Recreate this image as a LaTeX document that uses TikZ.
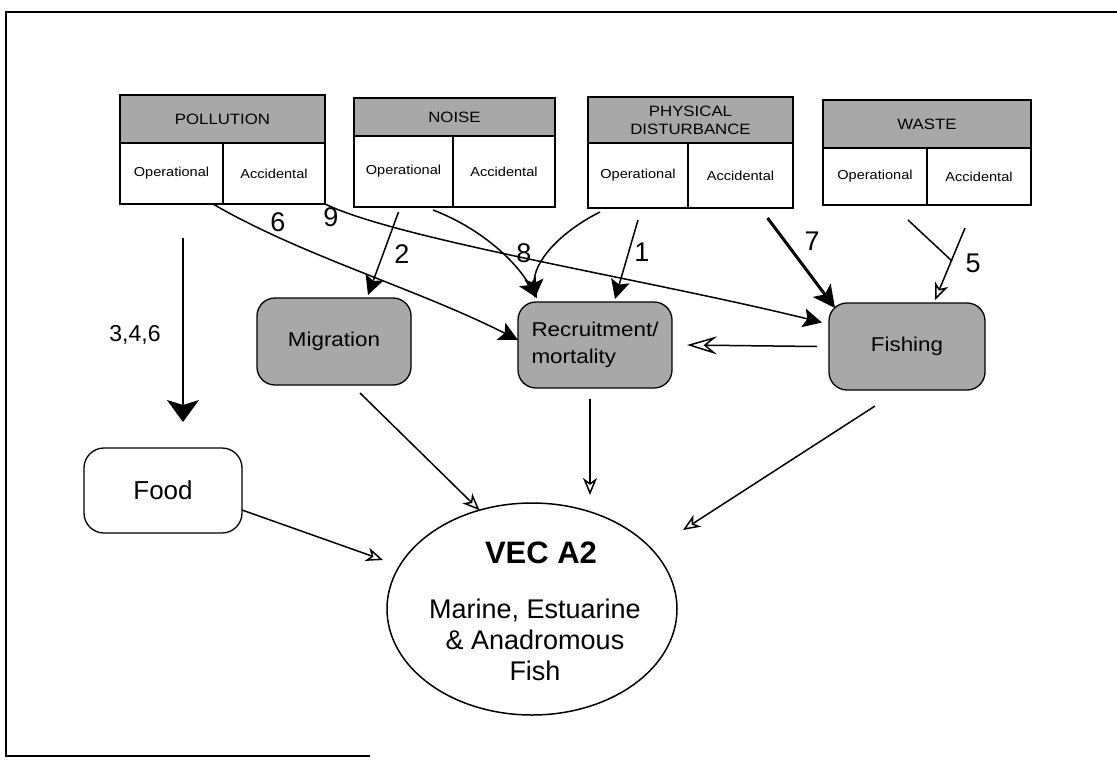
\documentclass[tikz,border=0pt]{standalone}
\usepackage{fontspec}
\setmainfont{Liberation Sans}
\newfontfamily\wsans[FakeStretch=1.12]{Liberation Sans}
\usetikzlibrary{arrows.meta,shapes.geometric}

\definecolor{hatch}{gray}{0.66}

\begin{document}
\begin{tikzpicture}[x=1pt,y=-1pt,
  every node/.style={inner sep=0pt, outer sep=0pt},
  hdr/.style={draw, line width=1.2pt, fill=hatch, align=center,
    font=\wsans\fontsize{15}{17}\selectfont},
  cell/.style={draw, line width=1.2pt, fill=white,
    font=\wsans\fontsize{13}{15}\selectfont},
  effect/.style={draw, line width=1.3pt, fill=hatch, rounded corners=18pt,
    align=left, font=\wsans\fontsize{20}{27}\selectfont},
  link/.style={line width=1.5pt},
  solid head/.style={-{Stealth[length=19pt,width=19pt,inset=4pt]}},
  open head/.style={-{Stealth[open,length=17pt,width=14pt,inset=5pt]}},
  hand/.style={font=\fontsize{27}{27}\selectfont}
]
\useasboundingbox (0,0) rectangle (1117,761);

% page frame (open on the right)
\draw[line width=2.2pt] (1117,12) -- (6,12) -- (6,756) -- (370,756);

% ---- sources -------------------------------------------------------
\node[hdr, minimum width=205pt, minimum height=48pt] (polH) at (222.5,119) {POLLUTION};
\node[cell, minimum width=103pt, minimum height=61pt] (polO) at (171.5,173.5) {Operational};
\node[cell, minimum width=102pt, minimum height=61pt] (polA) at (274,173.5) {Accidental};

\node[hdr, minimum width=201pt, minimum height=38pt] (noiH) at (454.5,117) {NOISE};
\node[cell, minimum width=99pt, minimum height=71pt] (noiO) at (403.5,171.5) {Operational};
\node[cell, minimum width=102pt, minimum height=71pt] (noiA) at (504,171.5) {Accidental};

\node[hdr, minimum width=205pt, minimum height=46pt, font=\wsans\fontsize{15}{18}\selectfont] (phyH) at (690.5,120) {PHYSICAL\\DISTURBANCE};
\node[cell, minimum width=100pt, minimum height=65pt] (phyO) at (638,175.5) {Operational};
\node[cell, minimum width=105pt, minimum height=65pt] (phyA) at (740.5,175.5) {Accidental};

\node[hdr, minimum width=208pt, minimum height=48pt] (wasH) at (927,124) {WASTE};
\node[cell, minimum width=104pt, minimum height=57pt] (wasO) at (875,176.5) {Operational};
\node[cell, minimum width=104pt, minimum height=57pt] (wasA) at (979,176.5) {Accidental};

% ---- pathways ------------------------------------------------------
\node[effect, minimum width=154pt, minimum height=87pt] (mig) at (334,341.5) {Migration};
\node[effect, minimum width=154pt, minimum height=86pt] (rec) at (595,345) {Recruitment/\\mortality};
\node[effect, minimum width=156pt, minimum height=87pt] (fish) at (907,346.5) {Fishing};
\node[draw, line width=1.3pt, fill=white, rounded corners=20pt,
      minimum width=158pt, minimum height=85pt,
      font=\fontsize{26}{28}\selectfont] (food) at (163,490.5) {Food};

% ---- receptor ------------------------------------------------------
\node[draw, ellipse, line width=1.5pt, minimum width=290pt, minimum height=212pt] (vec) at (532,609) {};
\node[font=\bfseries\fontsize{31}{32}\selectfont] (vecT) at (541,553) {VEC A2};
\node[align=center, font=\fontsize{27}{31}\selectfont] (vecB) at (535,640)
  {Marine, Estuarine\\\& Anadromous\\Fish};

% ---- hand-drawn impact links -----------------------------------------
\draw[link, -{Stealth[length=22pt,width=32pt,inset=5pt]}]
  ([xshift=11.5pt,yshift=-34pt]polO.south) -- ([xshift=20pt,yshift=26pt]food.north);
\node[font=\fontsize{23}{23}\selectfont] (l346) at (135,335) {3,4,6};

\draw[link, solid head] ([xshift=41.5pt]polO.south)
  .. controls (300,255) and (420,290) .. ([yshift=5pt]rec.west);
\node[hand] (l6) at (278,222) {6};

\draw[link, solid head] (polA.south east)
  .. controls (400,240) and (650,280) .. ([xshift=-7pt,yshift=24pt]fish.west);
\node[hand] (l9) at (331,217) {9};

\draw[link, solid head] ([xshift=-5pt,yshift=-5pt]noiO.south) -- ([xshift=34pt,yshift=3pt]mig.north);
\node[hand] (l2) at (402,254) {2};

\draw[link, solid head] ([xshift=29.5pt,yshift=-3pt]noiO.south)
  .. controls (480,228) and (515,260) .. ([xshift=-58pt,yshift=4pt]rec.north);
\node[hand] (l8) at (524,253) {8};

\draw[link, solid head] ([xshift=-38pt,yshift=-4pt]phyO.south)
  .. controls (560,232) and (533,262) .. ([xshift=-60pt,yshift=4pt]rec.north);

\draw[link, solid head] ([yshift=-12pt]phyO.south) -- ([xshift=20pt,yshift=3pt]rec.north);
\node[hand] (l1) at (642,252) {1};

\draw[line width=3pt, -{Stealth[length=22pt,width=22pt,inset=5pt]}]
  ([xshift=27pt,yshift=-10pt]phyA.south) -- ([xshift=6pt,yshift=-5pt]fish.north west);
\node[hand] (l7) at (812,241) {7};

\coordinate (w5) at (965,228);
\coordinate (j5) at (952,261);
\draw[link, open head] (w5) -- ([xshift=28pt,yshift=3pt]fish.north);
\draw[link] ([xshift=33pt,yshift=-15pt]wasO.south) .. controls (930,240) .. (j5);
\node[hand] (l5) at (973,263) {5};

% ---- pathway to receptor links ----------------------------------------
\draw[link, -{Stealth[open,length=30pt,width=18pt,inset=11pt]}]
  ([xshift=-12pt]fish.west) -- ([xshift=15pt]rec.east);
\draw[link, open head] ([xshift=26pt,yshift=-8pt]mig.south) -- (vec.118);
\draw[link, open head] ([xshift=-5pt,yshift=-11pt]rec.south) -- ([xshift=58pt,yshift=8pt]vec.north);
\draw[link, open head] ([xshift=-32pt,yshift=-16pt]fish.south) -- ([xshift=6pt,yshift=79pt]vec.east);
\draw[link, open head] ([yshift=-19.5pt]food.east) -- ([xshift=-4pt,yshift=49pt]vec.west);
\end{tikzpicture}
\end{document}
